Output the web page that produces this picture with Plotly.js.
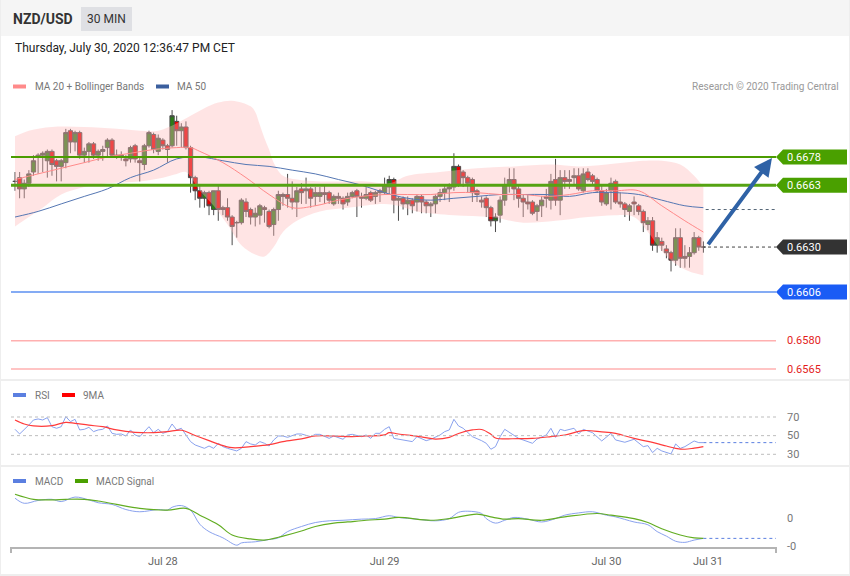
<!DOCTYPE html>
<html><head><meta charset="utf-8">
<script src="https://cdn.plot.ly/plotly-3.0.1.min.js"></script>
<style>html,body{margin:0;padding:0;background:#fff;}#chart{width:850px;height:576px;}</style>
</head><body><div id="chart"></div>
<script>
// ---------------- DATA ----------------
const open = [0.6665,0.6667,0.6661,0.6664,0.6670,0.6678,0.6679,0.6676,0.6681,0.6676,
0.6673,0.6675,0.6692,0.6686,0.6691,0.6679,0.6681,0.6685,0.6679,0.6681,
0.6683,0.6687,0.6679,0.6678,0.6677,0.6677,0.6684,0.6676,0.6674,0.6684,
0.6690,0.6681,0.6687,0.6684,0.6684,0.6697,0.6692,0.6694,0.6683,0.6667,
0.6660,0.6656,0.6659,0.6650,0.6660,0.6651,0.6651,0.6646,0.6643,0.6643,
0.6654,0.6650,0.6646,0.6647,0.6651,0.6649,0.6642,0.6650,0.6658,0.6658,
0.6656,0.6654,0.6661,0.6660,0.6661,0.6657,0.6657,0.6659,0.6659,0.6653,
0.6657,0.6656,0.6654,0.6657,0.6660,0.6657,0.6656,0.6659,0.6657,0.6659,
0.6659,0.6662,0.6666,0.6655,0.6656,0.6653,0.6655,0.6654,0.6657,0.6654,
0.6652,0.6653,0.6657,0.6659,0.6661,0.6662,0.6673,0.6670,0.6667,0.6666,
0.6660,0.6655,0.6656,0.6651,0.6644,0.6647,0.6655,0.6663,0.6666,0.6661,
0.6656,0.6654,0.6654,0.6649,0.6652,0.6657,0.6655,0.6666,0.6655,0.6667,
0.6666,0.6667,0.6668,0.6660,0.6670,0.6668,0.6666,0.6660,0.6653,0.6660,
0.6665,0.6654,0.6653,0.6649,0.6654,0.6652,0.6649,0.6642,0.6644,0.6631,
0.6633,0.6629,0.6627,0.6623,0.6635,0.6625,0.6625,0.6627,0.6635,0.6630];
const high = [0.6670,0.6670,0.6666,0.6671,0.6679,0.6680,0.6681,0.6682,0.6682,0.6677,
0.6677,0.6693,0.6693,0.6692,0.6692,0.6683,0.6686,0.6686,0.6682,0.6684,
0.6688,0.6688,0.6682,0.6681,0.6679,0.6684,0.6685,0.6678,0.6685,0.6692,
0.6691,0.6690,0.6688,0.6685,0.6703,0.6700,0.6696,0.6697,0.6684,0.6668,
0.6663,0.6660,0.6660,0.6660,0.6663,0.6652,0.6656,0.6647,0.6644,0.6656,
0.6656,0.6651,0.6651,0.6653,0.6652,0.6650,0.6651,0.6660,0.6659,0.6669,
0.6665,0.6662,0.6664,0.6667,0.6662,0.6662,0.6662,0.6663,0.6660,0.6658,
0.6659,0.6657,0.6659,0.6660,0.6661,0.6659,0.6662,0.6660,0.6660,0.6661,
0.6667,0.6668,0.6667,0.6657,0.6657,0.6657,0.6656,0.6658,0.6658,0.6655,
0.6654,0.6658,0.6661,0.6663,0.6664,0.6680,0.6674,0.6671,0.6668,0.6667,
0.6661,0.6657,0.6657,0.6652,0.6648,0.6657,0.6667,0.6672,0.6672,0.6663,
0.6658,0.6658,0.6655,0.6653,0.6657,0.6661,0.6669,0.6677,0.6671,0.6671,
0.6671,0.6672,0.6672,0.6672,0.6672,0.6669,0.6667,0.6663,0.6661,0.6667,
0.6666,0.6659,0.6654,0.6653,0.6657,0.6653,0.6650,0.6646,0.6646,0.6638,
0.6635,0.6631,0.6628,0.6640,0.6640,0.6631,0.6630,0.6638,0.6636,0.6633];
const low = [0.6660,0.6656,0.6656,0.6662,0.6668,0.6669,0.6670,0.6667,0.6668,0.6665,
0.6665,0.6672,0.6680,0.6681,0.6677,0.6675,0.6675,0.6677,0.6676,0.6676,
0.6678,0.6678,0.6677,0.6676,0.6673,0.6675,0.6675,0.6665,0.6671,0.6683,
0.6680,0.6679,0.6682,0.6675,0.6683,0.6684,0.6683,0.6682,0.6659,0.6655,
0.6651,0.6651,0.6647,0.6647,0.6644,0.6647,0.6644,0.6631,0.6635,0.6642,
0.6646,0.6642,0.6641,0.6642,0.6643,0.6640,0.6636,0.6644,0.6652,0.6651,
0.6650,0.6646,0.6653,0.6653,0.6651,0.6652,0.6654,0.6653,0.6653,0.6652,
0.6653,0.6650,0.6652,0.6656,0.6646,0.6651,0.6655,0.6654,0.6653,0.6654,
0.6658,0.6658,0.6648,0.6644,0.6650,0.6647,0.6648,0.6649,0.6648,0.6648,
0.6646,0.6648,0.6654,0.6655,0.6654,0.6660,0.6662,0.6662,0.6659,0.6654,
0.6654,0.6651,0.6646,0.6641,0.6638,0.6643,0.6652,0.6659,0.6655,0.6651,
0.6646,0.6650,0.6647,0.6644,0.6646,0.6651,0.6650,0.6652,0.6647,0.6661,
0.6661,0.6663,0.6660,0.6659,0.6665,0.6663,0.6659,0.6652,0.6652,0.6650,
0.6653,0.6651,0.6646,0.6644,0.6647,0.6647,0.6638,0.6639,0.6628,0.6627,
0.6628,0.6624,0.6617,0.6620,0.6619,0.6619,0.6619,0.6626,0.6628,0.6627];
const close = [0.6665,0.6661,0.6664,0.6669,0.6676,0.6679,0.6680,0.6681,0.6674,0.6673,
0.6676,0.6691,0.6686,0.6691,0.6679,0.6681,0.6685,0.6679,0.6681,0.6682,
0.6687,0.6679,0.6678,0.6679,0.6676,0.6683,0.6677,0.6675,0.6684,0.6691,
0.6682,0.6688,0.6684,0.6682,0.6700,0.6692,0.6694,0.6683,0.6667,0.6660,
0.6656,0.6659,0.6652,0.6660,0.6650,0.6650,0.6646,0.6641,0.6643,0.6655,
0.6649,0.6646,0.6648,0.6652,0.6650,0.6641,0.6650,0.6658,0.6657,0.6656,
0.6654,0.6660,0.6659,0.6661,0.6656,0.6659,0.6659,0.6658,0.6655,0.6657,
0.6656,0.6653,0.6657,0.6659,0.6657,0.6656,0.6658,0.6655,0.6659,0.6660,
0.6663,0.6666,0.6655,0.6656,0.6653,0.6655,0.6652,0.6657,0.6654,0.6652,
0.6653,0.6657,0.6659,0.6661,0.6662,0.6673,0.6663,0.6667,0.6664,0.6659,
0.6658,0.6654,0.6651,0.6644,0.6646,0.6655,0.6663,0.6666,0.6661,0.6656,
0.6654,0.6653,0.6648,0.6652,0.6655,0.6656,0.6665,0.6655,0.6667,0.6665,
0.6665,0.6668,0.6661,0.6669,0.6666,0.6665,0.6660,0.6654,0.6659,0.6664,
0.6654,0.6653,0.6650,0.6652,0.6653,0.6649,0.6643,0.6644,0.6631,0.6635,
0.6631,0.6627,0.6623,0.6635,0.6624,0.6624,0.6627,0.6635,0.6630,0.6630];

// Bollinger bands - candle index and price
const bbUpperIdx = [0,3,8,15,22,27,31,35,38,41,44,47,51,52,53,54,55,56,58,61,66,76,81,85,92,100,108,116,122,128,136,140,144,147,149];
const bbUpper = [0.6689,0.6692,0.6694,0.6694,0.6693,0.6692,0.6692,0.6696,0.6700,0.6704,0.6707,0.6708,0.6705,0.6702,0.6695,0.6688,0.6682,0.6675,0.6668,0.6666,0.6665,0.6665,0.6664,0.6668,0.6670,0.6672,0.6673,0.6674,0.6673,0.6674,0.6676,0.6676,0.6674,0.6668,0.6662];
const bbLowerIdx = [0,3,6,10,15,20,27,32,35,37,40,43,46,49,52,54,56,58,61,66,72,80,83,87,95,103,110,117,124,130,134,137,140,143,146,149];
const bbLower = [0.6641,0.6646,0.6651,0.6658,0.6662,0.6664,0.6665,0.6667,0.6669,0.6670,0.6660,0.6652,0.6642,0.6631,0.6626,0.6625,0.6630,0.6638,0.6644,0.6649,0.6651,0.6653,0.6652,0.6649,0.6647,0.6646,0.6643,0.6644,0.6646,0.6647,0.6646,0.6638,0.6628,0.6621,0.6617,0.6615];
const maIdx = [0,5,10,15,20,25,30,35,38,40,45,50,55,60,65,70,75,80,85,90,95,100,105,110,115,120,125,130,135,140,145,149];
const ma20 = [0.6666,0.6669,0.6672,0.6675,0.6678,0.6680,0.6682,0.6683,0.6683,0.6681,0.6675,0.6667,0.6658,0.6651,0.6652,0.6655,0.6657,0.6658,0.6658,0.6658,0.6659,0.6659,0.6658,0.6658,0.6657,0.6658,0.6660,0.6660,0.6660,0.6652,0.6644,0.6638];
const ma50Idx = [0,5,10,15,20,25,30,35,40,45,50,55,60,65,70,75,80,85,90,95,100,105,110,115,120,125,130,135,140,145,149];
const ma50 = [0.6646,0.6649,0.6653,0.6657,0.6661,0.6667,0.6671,0.6677,0.6678,0.6676,0.6674,0.6673,0.6671,0.6669,0.6666,0.6663,0.6659,0.6656,0.6655,0.6656,0.6657,0.6658,0.6658,0.6658,0.6657,0.6659,0.6659,0.6658,0.6655,0.6652,0.6651];

// RSI
const rsiIdx = [0,1,3,4,5,6,7,8,9,10,11,12,13,14,15,16,17,18,19,20,21,22,23,24,25,26,27,28,29,30,31,32,33,34,35,36,37,38,39,40,41,42,43,44,45,46,47,48,49,50,51,52,53,54,55,56,57,58,59,61,62,64,65,66,68,69,71,72,73,75,76,77,78,79,80,81,82,83,86,87,89,90,92,93,94,95,96,97,99,101,102,103,104,105,106,109,110,112,113,115,116,117,118,119,121,122,123,125,127,129,130,132,134,136,137,138,139,140,142,143,144,145,147,148,149];
const rsi = [56.8,51.8,61.4,66.8,67.9,66.8,69.3,59.6,57.9,59.6,70.4,65.0,67.5,56.1,56.8,58.9,54.3,56.1,56.8,60.4,52.5,51.4,51.8,49.6,56.1,50.7,48.9,54.3,59.6,53.2,56.8,52.5,54.3,62.5,56.1,57.9,50.7,43.6,40.0,38.2,36.4,38.9,36.4,41.8,38.2,36.4,34.6,33.6,36.4,43.6,41.1,40.0,43.6,41.8,38.9,45.4,49.6,49.6,48.2,51.8,51.8,48.9,51.4,51.4,47.1,49.6,46.1,50.7,51.4,48.9,50.7,47.1,52.5,52.5,56.8,59.6,47.1,46.1,43.6,48.9,44.6,46.1,50.7,54.3,56.1,67.5,60.4,57.9,48.9,44.6,41.8,35.4,38.2,48.9,56.8,47.1,45.4,41.8,46.4,50.7,57.9,48.2,56.8,55.4,57.9,51.8,56.8,53.2,44.3,52.5,45.4,42.9,46.1,38.2,39.3,31.8,36.4,33.6,30.4,41.1,36.4,38.2,44.3,42.5,42.5];
const rsiMaIdx = [0,2,4,8,11,13,16,19,22,26,30,33,36,39,42,44,47,51,55,58,62,65,69,73,76,80,81,83,88,91,94,96,99,101,103,104,109,112,116,119,123,127,130,134,137,141,143,145,147,149];
const rsiMa = [66.8,62.5,60.4,60.7,64.3,63.2,61.2,59.6,56.1,53.6,53.2,54.3,55.8,50.2,44.6,40.9,37.1,38.2,40.3,43.6,46.6,49.6,49.6,48.9,49.6,50.9,53.2,51.8,48.6,46.3,48.2,52.3,56.1,56.6,51.5,47.5,46.8,47.1,49.0,50.7,55.4,54.1,52.5,47.0,43.8,38.9,36.4,35.4,36.6,38.2];
const rsiLevels = [70, 50, 30];

// MACD
const macdIdx = [0,2,5,8,10,13,16,18,21,24,27,31,33,34,36,38,40,42,45,48,49,52,55,57,59,62,65,68,71,75,78,81,83,87,91,94,96,98,101,102,104,106,108,111,114,117,119,122,125,128,130,134,137,139,141,143,145,147,149];
const macd = [0.00035,0.00026,0.00031,0.00033,0.00029,0.00037,0.00032,0.00027,0.00024,0.00015,0.00011,0.00015,0.00014,0.00019,0.00022,0.00014,-0.00011,-0.00024,-0.00035,-0.00048,-0.00044,-0.00042,-0.00038,-0.00035,-0.00024,-0.00015,-0.00008,-0.00005,-0.00004,-0.00002,-0.00001,0.00004,0.00001,-0.00002,-0.00005,-0.00001,0.00010,0.00012,0.00008,-0.00001,-0.00009,-0.00004,0.00001,-0.00002,-0.00007,-0.00001,0.00005,0.00009,0.00011,0.00005,0.00002,-0.00007,-0.00012,-0.00024,-0.00032,-0.00041,-0.00043,-0.00039,-0.00036];
const signalIdx = [0,4,8,11,15,18,22,27,33,37,40,44,47,51,54,58,62,65,69,72,76,80,83,90,94,100,103,106,109,114,119,126,129,134,137,140,144,147,149];
const signal = [0.00042,0.00033,0.00032,0.00033,0.00033,0.00030,0.00024,0.00017,0.00014,0.00017,0.00005,-0.00012,-0.00030,-0.00037,-0.00039,-0.00032,-0.00023,-0.00015,-0.00009,-0.00007,-0.00004,-0.00002,0.00001,-0.00004,-0.00001,0.00007,0.00002,-0.00002,-0.00001,-0.00004,0.00002,0.00008,0.00005,-0.00001,-0.00008,-0.00019,-0.00030,-0.00035,-0.00036];
const macdTickVals = [0, -0.0005];
const macdTickText = ['0', '-0'];

// price levels
const levelPrices = [0.6678, 0.6663, 0.6630, 0.6606, 0.6580, 0.6565];
const levelLabels = ['0.6678', '0.6663', '0.6630', '0.6606', '0.6580', '0.6565'];
const lastMa50Level = 0.6650;

// x ticks
const tickIdx = [32, 80, 128, 150];
const tickLabels = ['Jul 28', 'Jul 29', 'Jul 30', 'Jul 31'];

// arrow (from last price to the 0.6678 target)
const arrowFrom = {i: 149.8, p: 0.66306};
const arrowTo = {i: 163.85, p: 0.66775};

// ---------------- LAYOUT HELPERS ----------------
const FONT = 'Roboto, Arial, sans-serif';
const PX_L = 11, PX_R = 776, PY_B = 547;
const fx = px => (px - PX_L) / (PX_R - PX_L);
const fy = py => (PY_B - py) / PY_B;
const X_RANGE = [-0.866, 164.72];
const MAIN_RANGE = [0.656180, 0.671105];
const MAIN_DOM = [fy(375), fy(95)];
const RSI_RANGE = [21.74, 93.59];
const RSI_DOM = [fy(462), fy(395)];
const MACD_RANGE = [-0.000512, 0.000530];
const MACD_DOM = [0, fy(488)];
const pricePerPx = (MAIN_RANGE[1] - MAIN_RANGE[0]) / 280;

const candleIdx = close.map((_, i) => i);
const lastIdx = candleIdx[candleIdx.length - 1];

const shapes = [];
const annotations = [];
function txt(text, px, py, size, color, extra) {
  return Object.assign({text, xref: 'paper', yref: 'paper', x: fx(px), y: fy(py), xanchor: 'left', yanchor: 'middle',
    showarrow: false, font: {family: FONT, size, color}}, extra || {});
}
function rectPx(x0, x1, y0, y1, fill, layer) {
  return {type: 'rect', xref: 'paper', yref: 'paper', x0: fx(x0), x1: fx(x1), y0: fy(y1), y1: fy(y0),
    fillcolor: fill, line: {width: 0}, layer: layer || 'below'};
}

// header & panels
shapes.push(rectPx(0, 850, 0, 36, '#f5f5f5'));
shapes.push(rectPx(81, 132, 7, 31, '#dfe0e4'));
shapes.push(rectPx(0, 850, 379, 381, '#eeeeee'));
shapes.push(rectPx(0, 850, 465, 467, '#eeeeee'));
shapes.push(rectPx(0, 850, 574, 576, '#eeeeee'));
shapes.push(rectPx(0, 1, 0, 576, '#eeeeee'));
shapes.push(rectPx(849, 850, 0, 576, '#eeeeee'));

annotations.push(txt('NZD/USD', 11, 19, 14, '#333', {font: {family: FONT, size: 14, color: '#333', weight: 'bold'}}));
annotations.push(txt('30 MIN', 106.5, 19, 12, '#333', {xanchor: 'center'}));
annotations.push(txt('Thursday, July 30, 2020 12:36:47 PM CET', 13, 48, 12, '#222'));

// legends
shapes.push(rectPx(13, 26, 84.5, 88.5, '#ff8a8a', 'above'));
annotations.push(txt('MA 20 + Bollinger Bands', 33, 86, 10, '#777'));
shapes.push(rectPx(156, 169, 84.5, 88.5, '#3b5f9e', 'above'));
annotations.push(txt('MA 50', 175, 86, 10, '#777'));
annotations.push(txt('Research © 2020 Trading Central', 841, 86, 10, '#999', {xanchor: 'right'}));

shapes.push(rectPx(13, 26, 393, 397, '#5b7fe0', 'above'));
annotations.push(txt('RSI', 33, 395, 10, '#777'));
shapes.push(rectPx(62, 75, 393, 397, '#ff0000', 'above'));
annotations.push(txt('9MA', 81, 395, 10, '#777'));

shapes.push(rectPx(13, 26, 479, 483, '#5b7fe0', 'above'));
annotations.push(txt('MACD', 33, 481, 10, '#777'));
shapes.push(rectPx(75, 88, 479, 483, '#4aa000', 'above'));
annotations.push(txt('MACD Signal', 94, 481, 10, '#777'));

// price level lines and tags
const levelStyle = [
  {line: '#4b9c00', width: 2, tag: '#4aa000', full: true},
  {line: '#55a312', width: 3, tag: '#4aa000', full: true},
  {line: '#444444', width: 1, tag: '#333333', full: false},
  {line: '#5b8ff0', width: 1.5, tag: '#1a5cf5', full: true},
  {line: '#ffb0b0', width: 1.5, tag: null, full: true, text: '#e31b1b'},
  {line: '#ffb0b0', width: 1.5, tag: null, full: true, text: '#e31b1b'}
];
levelPrices.forEach((p, k) => {
  const st = levelStyle[k];
  if (st.full) {
    shapes.push({type: 'line', xref: 'paper', yref: 'y', x0: 0, x1: 1, y0: p, y1: p, line: {color: st.line, width: st.width}});
  } else {
    shapes.push({type: 'line', xref: 'x', yref: 'y', x0: lastIdx + 1, x1: X_RANGE[1], y0: p, y1: p, line: {color: st.line, width: 1, dash: 'dot'}});
  }
  if (st.tag) {
    const h = 7.5 * pricePerPx;
    const a = fx(776), b = fx(783), c = fx(847);
    shapes.push({type: 'path', xref: 'paper', yref: 'y', fillcolor: st.tag, line: {width: 0},
      path: `M ${a},${p} L ${b},${p + h} L ${c},${p + h} L ${c},${p - h} L ${b},${p - h} Z`});
    annotations.push({text: levelLabels[k], xref: 'paper', yref: 'y', x: fx(785), y: p, xanchor: 'left', yanchor: 'middle',
      showarrow: false, font: {family: FONT, size: 11, color: '#ffffff'}});
  } else {
    annotations.push({text: levelLabels[k], xref: 'paper', yref: 'y', x: fx(785), y: p, xanchor: 'left', yanchor: 'middle',
      showarrow: false, font: {family: FONT, size: 11, color: st.text}});
  }
});
// MA50 last level dotted extension
shapes.push({type: 'line', xref: 'x', yref: 'y', x0: lastIdx + 0.5, x1: X_RANGE[1], y0: lastMa50Level, y1: lastMa50Level,
  line: {color: '#556677', width: 1, dash: 'dot'}});

// arrow
annotations.push({text: '', xref: 'x', yref: 'y', axref: 'x', ayref: 'y', x: arrowTo.i, y: arrowTo.p, ax: arrowFrom.i, ay: arrowFrom.p,
  showarrow: true, arrowhead: 2, arrowsize: 0.9, arrowwidth: 4, arrowcolor: '#2f62a6'});

// RSI grid and labels
rsiLevels.forEach(v => {
  shapes.push({type: 'line', xref: 'paper', yref: 'y2', x0: 0, x1: 1, y0: v, y1: v, line: {color: '#bdbdbd', width: 1, dash: 'dot'}});
  annotations.push({text: String(v), xref: 'paper', yref: 'y2', x: fx(785), y: v, xanchor: 'left', yanchor: 'middle',
    showarrow: false, font: {family: FONT, size: 11, color: '#777'}});
});
shapes.push({type: 'line', xref: 'x', yref: 'y2', x0: lastIdx, x1: X_RANGE[1], y0: rsi[rsi.length - 1], y1: rsi[rsi.length - 1],
  line: {color: '#5b7fe0', width: 1, dash: 'dot'}});

// MACD labels
macdTickVals.forEach((v, k) => {
  annotations.push({text: macdTickText[k], xref: 'paper', yref: 'y3', x: fx(785), y: v, xanchor: 'left', yanchor: 'middle',
    showarrow: false, font: {family: FONT, size: 11, color: '#777'}});
});
shapes.push({type: 'line', xref: 'x', yref: 'y3', x0: lastIdx, x1: X_RANGE[1], y0: macd[macd.length - 1], y1: macd[macd.length - 1],
  line: {color: '#5b7fe0', width: 1, dash: 'dot'}});
// axis end ticks
shapes.push({type: 'line', xref: 'paper', yref: 'paper', x0: 0, x1: 0, y0: fy(547), y1: fy(553), line: {color: '#b4b4b4', width: 2}});
shapes.push({type: 'line', xref: 'paper', yref: 'paper', x0: 1, x1: 1, y0: fy(547), y1: fy(553), line: {color: '#b4b4b4', width: 2}});

// ---------------- TRACES ----------------
const traces = [
  {type: 'scatter', mode: 'lines', x: bbLowerIdx, y: bbLower, line: {width: 0, shape: 'spline'}, hoverinfo: 'skip', xaxis: 'x', yaxis: 'y'},
  {type: 'scatter', mode: 'lines', x: bbUpperIdx, y: bbUpper, line: {width: 0, shape: 'spline'}, fill: 'tonexty',
    fillcolor: 'rgba(255,185,185,0.38)', hoverinfo: 'skip', xaxis: 'x', yaxis: 'y'},
  {type: 'scatter', mode: 'lines', x: ma50Idx, y: ma50, line: {color: '#5577b3', width: 1, shape: 'spline'}, hoverinfo: 'skip', xaxis: 'x', yaxis: 'y'},
  {type: 'scatter', mode: 'lines', x: maIdx, y: ma20, line: {color: '#ff8a8a', width: 1, shape: 'spline'}, hoverinfo: 'skip', xaxis: 'x', yaxis: 'y'},
  {type: 'candlestick', x: candleIdx, open, high, low, close, xaxis: 'x', yaxis: 'y', whiskerwidth: 0,
    increasing: {line: {color: '#4a4a4a', width: 1}, fillcolor: '#2a7d18'},
    decreasing: {line: {color: '#4a4a4a', width: 1}, fillcolor: '#e60000'}, hoverinfo: 'skip'},
  {type: 'scatter', mode: 'lines', x: rsiIdx, y: rsi, line: {color: '#8aa2ee', width: 1}, hoverinfo: 'skip', xaxis: 'x', yaxis: 'y2'},
  {type: 'scatter', mode: 'lines', x: rsiMaIdx, y: rsiMa, line: {color: '#ff3b3b', width: 1.2, shape: 'spline'}, hoverinfo: 'skip', xaxis: 'x', yaxis: 'y2'},
  {type: 'scatter', mode: 'lines', x: macdIdx, y: macd, line: {color: '#8aa2ee', width: 1, shape: 'spline'}, hoverinfo: 'skip', xaxis: 'x', yaxis: 'y3'},
  {type: 'scatter', mode: 'lines', x: signalIdx, y: signal, line: {color: '#62ad22', width: 1.2, shape: 'spline'}, hoverinfo: 'skip', xaxis: 'x', yaxis: 'y3'}
];

const layout = {
  width: 850, height: 576,
  margin: {l: PX_L, r: 850 - PX_R, t: 0, b: 576 - PY_B, pad: 0},
  paper_bgcolor: '#ffffff', plot_bgcolor: 'rgba(0,0,0,0)',
  showlegend: false,
  boxgap: 0.08, boxgroupgap: 0,
  font: {family: FONT},
  xaxis: {range: X_RANGE, anchor: 'y3', tickvals: tickIdx, ticktext: tickLabels, showgrid: false, zeroline: false,
    showline: true, linecolor: '#b4b4b4', linewidth: 2, ticks: '', ticklabelstandoff: 3,
    tickfont: {family: FONT, size: 11, color: '#666'}, rangeslider: {visible: false}, fixedrange: true},
  yaxis: {domain: MAIN_DOM, range: MAIN_RANGE, visible: false, fixedrange: true},
  yaxis2: {domain: RSI_DOM, range: RSI_RANGE, visible: false, fixedrange: true},
  yaxis3: {domain: MACD_DOM, range: MACD_RANGE, visible: false, fixedrange: true},
  shapes, annotations
};

Plotly.newPlot('chart', traces, layout, {displayModeBar: false, staticPlot: true});
</script></body></html>
